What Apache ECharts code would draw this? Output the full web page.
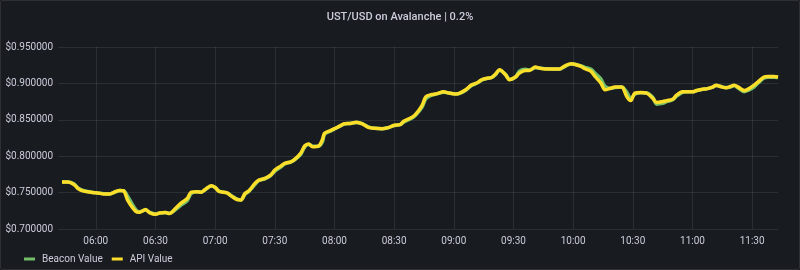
<!DOCTYPE html>
<html>
<head>
<meta charset="utf-8">
<script src="https://cdn.jsdelivr.net/npm/echarts@6/dist/echarts.min.js"></script>
<style>
  html, body { margin: 0; padding: 0; background: #111217; }
  #chart { width: 798px; height: 268px; background: #181b1f; border: 1px solid rgba(204,204,220,0.12); border-radius: 2px; }
</style>
</head>
<body>
<div id="chart"></div>
<script>
// time (HH:mm) for each sample
const times = [
  '05:43','05:46','05:49','05:51','05:54','05:58','06:01','06:04','06:07','06:10','06:12','06:14','06:16','06:20','06:22','06:25','06:27','06:30','06:32','06:35','06:37','06:40','06:43','06:46','06:48','06:51','06:53',
  '06:55','06:58','07:00','07:02','07:06','07:08','07:11','07:13','07:15','07:17','07:20','07:22','07:25','07:28','07:30','07:33','07:35','07:38','07:40','07:43','07:45','07:47','07:49','07:52','07:54','07:55','07:58','08:00','08:03','08:05','08:08',
  '08:11','08:14','08:17','08:20','08:24','08:27','08:30','08:33','08:35','08:39','08:41','08:44','08:46','08:49','08:51','08:55','08:57','09:01','09:03','09:06','09:09','09:12','09:14','09:17','09:19','09:21',
  '09:23','09:26','09:28','09:31','09:33','09:36','09:38','09:41','09:43','09:47','09:50','09:53','09:56','09:59','10:01','10:04','10:06','10:09','10:11','10:14','10:16','10:19','10:21','10:24','10:25','10:27','10:29','10:31','10:34',
  '10:37','10:40','10:42','10:45','10:47','10:50','10:52','10:55','10:57','11:00','11:02','11:05','11:07','11:10','11:12','11:14','11:17','11:19','11:21','11:23','11:26','11:28','11:31','11:33','11:36','11:38','11:41','11:43'
];
const apiValue = [
  0.7644,0.7644,0.7612,0.7557,0.7520,0.7502,0.7496,0.7482,0.7482,0.7515,0.7529,0.7524,0.7396,0.7244,0.7230,0.7267,0.7226,0.7203,0.7221,0.7226,0.7212,0.7281,0.7358,0.7419,0.7506,0.7510,0.7506,
  0.7543,0.7593,0.7570,0.7515,0.7496,0.7455,0.7405,0.7400,0.7488,0.7524,0.7626,0.7671,0.7695,0.7744,0.7809,0.7864,0.7901,0.7923,0.7956,0.8039,0.8140,0.8167,0.8130,0.8140,0.8232,0.8315,0.8351,0.8378,0.8420,0.8445,0.8450,
  0.8466,0.8443,0.8397,0.8384,0.8378,0.8392,0.8425,0.8433,0.8484,0.8535,0.8581,0.8695,0.8819,0.8847,0.8856,0.8884,0.8870,0.8856,0.8866,0.8912,0.8980,0.9012,0.9050,0.9073,0.9081,0.9130,
  0.9187,0.9118,0.9050,0.9087,0.9142,0.9178,0.9178,0.9224,0.9210,0.9197,0.9197,0.9197,0.9242,0.9270,0.9260,0.9233,0.9201,0.9164,0.9095,0.9004,0.8912,0.8935,0.8949,0.8949,0.8943,0.8819,0.8764,0.8866,0.8874,
  0.8866,0.8797,0.8737,0.8750,0.8764,0.8783,0.8838,0.8884,0.8884,0.8884,0.8902,0.8921,0.8925,0.8949,0.8976,0.8957,0.8939,0.8957,0.8976,0.8949,0.8902,0.8921,0.8976,0.9022,0.9087,0.9095,0.9095,0.9087
];
const beaconValue = [
  0.7644,0.7644,0.7620,0.7565,0.7525,0.7505,0.7496,0.7484,0.7482,0.7510,0.7529,0.7526,0.7450,0.7270,0.7235,0.7262,0.7230,0.7205,0.7218,0.7226,0.7215,0.7265,0.7330,0.7390,0.7490,0.7510,0.7506,
  0.7540,0.7590,0.7572,0.7520,0.7496,0.7460,0.7410,0.7400,0.7475,0.7520,0.7610,0.7665,0.7690,0.7735,0.7795,0.7850,0.7895,0.7920,0.7950,0.8025,0.8125,0.8165,0.8135,0.8138,0.8200,0.8300,0.8345,0.8375,0.8415,0.8442,0.8450,
  0.8462,0.8446,0.8402,0.8384,0.8378,0.8390,0.8420,0.8433,0.8470,0.8525,0.8570,0.8670,0.8790,0.8840,0.8852,0.8880,0.8872,0.8856,0.8862,0.8905,0.8970,0.9008,0.9045,0.9070,0.9081,0.9120,
  0.9180,0.9125,0.9055,0.9085,0.9170,0.9195,0.9185,0.9215,0.9212,0.9200,0.9197,0.9195,0.9235,0.9268,0.9262,0.9240,0.9220,0.9195,0.9140,0.9060,0.8960,0.8930,0.8945,0.8949,0.8945,0.8880,0.8790,0.8850,0.8872,
  0.8868,0.8810,0.8715,0.8725,0.8750,0.8775,0.8825,0.8878,0.8884,0.8884,0.8898,0.8918,0.8925,0.8945,0.8970,0.8960,0.8942,0.8950,0.8970,0.8935,0.8885,0.8905,0.8950,0.9005,0.9075,0.9085,0.9085,0.9080
];
const xTicks = ['06:00','06:30','07:00','07:30','08:00','08:30','09:00','09:30','10:00','10:30','11:00','11:30'];
const xStart = '05:41';
const xEnd = '11:43';

// HH:mm -> minutes
const toMin = (s) => {
  const p = s.split(':');
  return +p[0] * 60 + +p[1];
};
const pad = (n) => (n < 10 ? '0' : '') + n;
const fmtMin = (m) => pad(Math.floor(m / 60)) + ':' + pad(m % 60);

const tickMins = xTicks.map(toMin);
const gridColor = 'rgba(240,250,255,0.09)';
const textColor = '#ccccdc';
const font = 'Roboto';

const chart = echarts.init(document.getElementById('chart'));
chart.setOption({
  animation: false,
  backgroundColor: '#181b1f',
  textStyle: { fontFamily: font },
  title: {
    text: 'UST/USD on Avalanche | 0.2%',
    left: 'center',
    top: 6,
    textStyle: { color: textColor, fontSize: 11, fontWeight: 500, fontFamily: font }
  },
  legend: {
    left: 18,
    top: 248,
    icon: 'rect',
    itemWidth: 11,
    itemHeight: 3,
    itemGap: 9,
    textStyle: { color: textColor, fontSize: 10, fontFamily: font, padding: [0, 0, 0, 2] },
    data: ['Beacon Value', 'API Value']
  },
  grid: { left: 57, right: 21, top: 46, bottom: 40, containLabel: false, outerBoundsMode: 'none' },
  xAxis: {
    type: 'value',
    min: toMin(xStart),
    max: toMin(xEnd),
    axisLine: { show: false },
    axisTick: { show: false, customValues: tickMins },
    axisLabel: {
      customValues: tickMins,
      color: textColor,
      fontSize: 10,
      margin: 7,
      formatter: (v) => fmtMin(v)
    },
    splitLine: { show: true, lineStyle: { color: gridColor, width: 1 } }
  },
  yAxis: {
    type: 'value',
    min: 0.7,
    max: 0.95,
    interval: 0.05,
    axisLine: { show: false },
    axisTick: { show: false },
    axisLabel: {
      color: textColor,
      fontSize: 10,
      margin: 5,
      formatter: (v) => '$' + v.toFixed(6)
    },
    splitLine: { lineStyle: { color: gridColor, width: 1 } }
  },
  series: [
    {
      name: 'Beacon Value',
      type: 'line',
      data: times.map((t, i) => [toMin(t), beaconValue[i]]),
      showSymbol: false,
      smooth: 0.3,
      lineStyle: { color: '#73BF69', width: 3.5 },
      itemStyle: { color: '#73BF69' }
    },
    {
      name: 'API Value',
      type: 'line',
      data: times.map((t, i) => [toMin(t), apiValue[i]]),
      showSymbol: false,
      smooth: 0.3,
      lineStyle: { color: '#FADE2A', width: 3.5 },
      itemStyle: { color: '#FADE2A' }
    }
  ]
});
</script>
</body>
</html>
